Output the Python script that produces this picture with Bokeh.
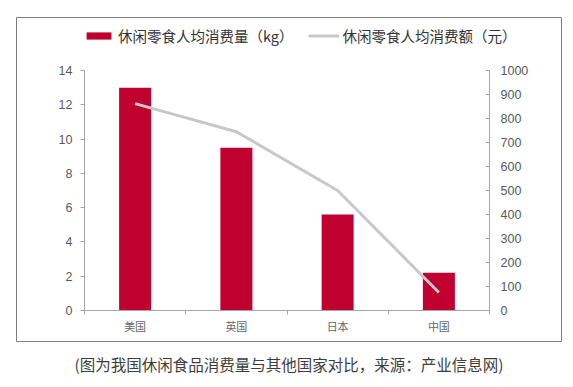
from bokeh.plotting import figure
from bokeh.models import (Range1d, LinearAxis, FixedTicker, Legend, LegendItem, Title)
from bokeh.embed import file_html
from bokeh.resources import INLINE

categories = ["美国", "英国", "日本", "中国"]
volume_kg = [13.0, 9.5, 5.6, 2.2]
spend_yuan = [862, 745, 500, 75]
left_ticks = [0, 2, 4, 6, 8, 10, 12, 14]
right_ticks = [0, 100, 200, 300, 400, 500, 600, 700, 800, 900, 1000]
caption = "(图为我国休闲食品消费量与其他国家对比，来源：产业信息网)"

xs = [i + 0.5 for i in range(len(categories))]
n = len(categories)
left_max = left_ticks[-1]
right_max = right_ticks[-1]

# layout (canvas pixels): boxed frame, plot area inside it
W, H = 565, 385
BOX_L, BOX_R, BOX_T, BOX_B = 16, 561, 17, 341
AX_L, AX_R, AX_T, AX_B = 84, 489, 70, 310
cat_px = (AX_R - AX_L) / n
ly_px = (AX_B - AX_T) / left_max
ry_px = (AX_B - AX_T) / right_max

p = figure(width=W, height=H, output_backend="svg", toolbar_location=None,
           x_range=Range1d((BOX_L - AX_L) / cat_px, (BOX_R - AX_L) / cat_px),
           y_range=Range1d(-(BOX_B - AX_B) / ly_px, (AX_B - BOX_T) / ly_px),
           min_border_left=BOX_L, min_border_right=W - BOX_R,
           min_border_top=BOX_T, min_border_bottom=H - BOX_B,
           y_axis_location=None, x_axis_location=None)
p.outline_line_color = "#7f7f7f"
p.outline_line_width = 1
p.xgrid.visible = False
p.ygrid.visible = False
p.background_fill_color = "white"
p.border_fill_color = "white"
p.extra_y_ranges = {"spend": Range1d(-(BOX_B - AX_B) / ry_px, (AX_B - BOX_T) / ry_px)}

axis_color = "#a6a6a6"
label_color = "#595959"

ly = LinearAxis(ticker=FixedTicker(ticks=left_ticks, minor_ticks=[]), bounds=(0, left_max),
                fixed_location=0)
ly.axis_line_color = axis_color
ly.major_tick_line_color = axis_color
ly.major_tick_out = 4
ly.major_tick_in = 0
ly.minor_tick_line_color = None
ly.major_label_text_color = label_color
ly.major_label_text_font = "Liberation Sans"
ly.major_label_text_font_size = "12.5px"
ly.major_label_standoff = 8
p.add_layout(ly, "left")

ry = LinearAxis(y_range_name="spend", ticker=FixedTicker(ticks=right_ticks, minor_ticks=[]),
                bounds=(0, right_max), fixed_location=n)
ry.axis_line_color = axis_color
ry.major_tick_line_color = axis_color
ry.major_tick_out = 0
ry.major_tick_in = 4
ry.minor_tick_line_color = None
ry.major_label_text_color = label_color
ry.major_label_text_font = "Liberation Sans"
ry.major_label_text_font_size = "12.5px"
ry.major_label_standoff = 11
p.add_layout(ry, "right")

bx = LinearAxis(ticker=FixedTicker(ticks=xs, minor_ticks=list(range(n + 1))),
                bounds=(0, n), fixed_location=0)
bx.major_label_overrides = {x: c for x, c in zip(xs, categories)}
bx.axis_line_color = axis_color
bx.major_tick_line_color = None
bx.minor_tick_line_color = axis_color
bx.minor_tick_out = 4
bx.minor_tick_in = 0
bx.major_label_text_color = "#666666"
bx.major_label_text_font = "Noto Sans CJK SC"
bx.major_label_text_font_size = "11px"
bx.major_label_standoff = 1
p.add_layout(bx, "below")

bars = p.vbar(x=xs, top=volume_kg, width=0.316, fill_color="#C0002F", line_color=None)
line = p.line(x=xs, y=spend_yuan, y_range_name="spend", line_color="#c8c8c8", line_width=3)

legend = Legend(items=[LegendItem(label="休闲零食人均消费量（kg）", renderers=[bars]),
                       LegendItem(label="休闲零食人均消费额（元）", renderers=[line])],
                orientation="horizontal", location=(AX_L - BOX_L - 1, BOX_B - 46))
legend.border_line_color = None
legend.background_fill_alpha = 0
legend.padding = 0
legend.margin = 0
legend.spacing = 14
legend.glyph_width = 31
legend.glyph_height = 9
legend.label_standoff = 4
legend.label_text_font = "Noto Sans CJK SC"
legend.label_text_font_size = "14.5px"
legend.label_text_color = "#333333"
p.add_layout(legend, "center")

cap = Title(text=caption, align="center", text_font="Noto Sans CJK SC", text_font_size="15.5px",
            text_color="#3d3d3d", text_font_style="normal", standoff=18, offset=8)
p.add_layout(cap, "below")

open("out.html", "w").write(file_html(p, INLINE))
